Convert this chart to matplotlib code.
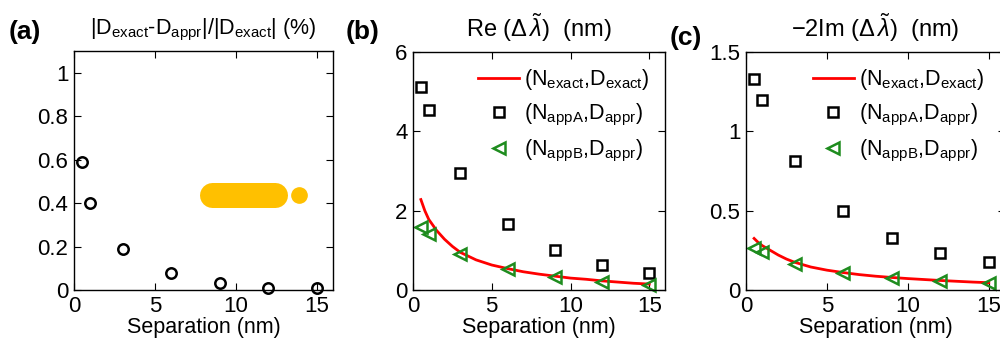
import numpy as np
import matplotlib
matplotlib.use("Agg")
import matplotlib.pyplot as plt

plt.rcParams["font.family"] = ["Liberation Sans", "DejaVu Sans"]
plt.rcParams["mathtext.fontset"] = "custom"
plt.rcParams["mathtext.rm"] = "Liberation Sans"
plt.rcParams["mathtext.it"] = "Liberation Sans:italic"
plt.rcParams["mathtext.bf"] = "Liberation Sans:bold"

# separations (nm)
sep = [0.5, 1, 3, 6, 9, 12, 15]

# (a) relative error of D (%)
err_d = [0.59, 0.40, 0.19, 0.08, 0.03, 0.01, 0.01]

# (b) Re(dlambda)
re_appA = [5.12, 4.55, 2.96, 1.66, 1.01, 0.64, 0.42]
re_appB = [1.58, 1.42, 0.92, 0.53, 0.32, 0.20, 0.13]

# (c) -2Im(dlambda)
im_appA = [1.33, 1.20, 0.81, 0.50, 0.33, 0.235, 0.176]
im_appB = [0.264, 0.24, 0.164, 0.109, 0.078, 0.057, 0.042]

# exact curves
sep_fine = [0.5, 0.75, 1, 1.5, 2, 2.5, 3, 4, 5, 6, 7, 8, 9, 10, 11, 12, 13, 14, 15]
re_exact = [2.28, 2.0, 1.78, 1.5, 1.28, 1.1, 0.95, 0.76, 0.63, 0.54, 0.46,
            0.40, 0.35, 0.30, 0.27, 0.23, 0.20, 0.17, 0.15]
im_exact = [0.325, 0.30, 0.28, 0.25, 0.22, 0.195, 0.175, 0.145, 0.125, 0.11,
            0.097, 0.087, 0.079, 0.072, 0.066, 0.06, 0.055, 0.05, 0.046]

# covered legend patch in (a)
patch_x = [8.5, 12.4]
patch_y = [0.435, 0.435]
dot_x = [13.9]
dot_y = [0.435]

W, H = 1000, 347
fig = plt.figure(figsize=(W / 100, H / 100), dpi=100)


def make_ax(left, right, top, bottom):
    return fig.add_axes([left / W, 1 - bottom / H, (right - left) / W, (bottom - top) / H])


def style(ax):
    ax.tick_params(direction="in", length=5, width=0.8, top=True, right=True,
                   labelsize=16, pad=4)
    for s in ax.spines.values():
        s.set_linewidth(1.0)
    ax.set_xlim(0, 16)
    ax.set_xticks([0, 5, 10, 15])
    ax.set_xlabel("Separation (nm)", fontsize=15.5, labelpad=0)


green = "#1e8c1e"
leg_labels = [r"$(\mathrm{N_{exact}}{,}\mathrm{D_{exact}})$",
              r"$(\mathrm{N_{appA}}{,}\mathrm{D_{appr}})$",
              r"$(\mathrm{N_{appB}}{,}\mathrm{D_{appr}})$"]
leg_kw = dict(frameon=False, fontsize=15.5, handlelength=1.9,
              handletextpad=0.25, labelspacing=0.45, borderaxespad=0.3)

# (a)
ax1 = make_ax(74, 333, 51, 290)
ax1.plot(sep, err_d, "o", mfc="none", mec="black", mew=1.8, ms=7.5, clip_on=False)
ax1.plot(patch_x, patch_y, "-", color="#FFC000", lw=18, solid_capstyle="round")
ax1.plot(dot_x, dot_y, "o", color="#FFC000", ms=11)
ax1.set_ylim(0, 1.1)
ax1.set_yticks([0, 0.2, 0.4, 0.6, 0.8, 1])
ax1.set_yticklabels(["0", "0.2", "0.4", "0.6", "0.8", "1"])
style(ax1)
ax1.set_title(r"$|\mathrm{D_{exact}}$-$\mathrm{D_{appr}}|/|\mathrm{D_{exact}}|$ (%)",
              fontsize=15.5, pad=12)
fig.text(9 / W, 1 - 32 / H, "(a)", fontsize=19, fontweight="bold", va="center")

# (b)
ax2 = make_ax(413, 665, 52, 290)
ax2.plot(sep_fine, re_exact, "-", color="red", lw=2, label=leg_labels[0])
ax2.plot(sep, re_appA, "s", mfc="none", mec="black", mew=1.8, ms=7, label=leg_labels[1], clip_on=False)
ax2.plot(sep, re_appB, "<", mfc="none", mec=green, mew=1.8, ms=8.5, label=leg_labels[2], clip_on=False)
ax2.set_ylim(0, 6)
ax2.set_yticks([0, 2, 4, 6])
style(ax2)
ax2.set_title(r"Re ($\Delta\,\tilde{\lambda}$)  (nm)", fontsize=17, pad=11)
ax2.legend(loc="upper right", **leg_kw)
fig.text(346 / W, 1 - 32 / H, "(b)", fontsize=19, fontweight="bold", va="center")

# (c)
ax3 = make_ax(746, 1005, 52, 290)
ax3.plot(sep_fine, im_exact, "-", color="red", lw=2, label=leg_labels[0])
ax3.plot(sep, im_appA, "s", mfc="none", mec="black", mew=1.8, ms=7, label=leg_labels[1], clip_on=False)
ax3.plot(sep, im_appB, "<", mfc="none", mec=green, mew=1.8, ms=8.5, label=leg_labels[2], clip_on=False)
ax3.set_ylim(0, 1.5)
ax3.set_yticks([0, 0.5, 1, 1.5])
ax3.set_yticklabels(["0", "0.5", "1", "1.5"])
style(ax3)
ax3.set_title(r"$-$2Im ($\Delta\,\tilde{\lambda}$)  (nm)", fontsize=17, pad=11)
ax3.legend(loc="upper right", bbox_to_anchor=(0.98, 1.0), **leg_kw)
fig.text(670 / W, 1 - 38 / H, "(c)", fontsize=19, fontweight="bold", va="center")

fig.savefig("out.png", dpi=100)
